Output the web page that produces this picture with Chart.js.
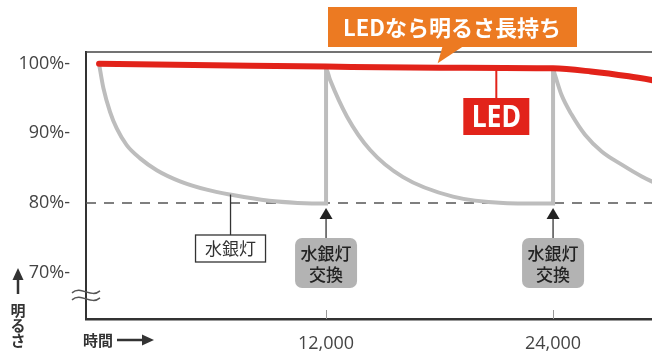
<!DOCTYPE html>
<html>
<head>
<meta charset="utf-8">
<script src="https://cdn.jsdelivr.net/npm/chart.js@4/dist/chart.umd.min.js"></script>
<style>
  body { margin: 0; background: #fff; }
  canvas { display: block; }
</style>
</head>
<body>
<canvas id="myChart" width="652" height="356"></canvas>
<script>
// tick labels
const xTicks = [12000, 24000];
const yTicks = [70, 80, 90, 100];

// LED brightness (%) over hours
const ledHours = [0, 6000, 12000, 18000, 24000, 26000, 28000, 30000];
const ledLight = [100, 99.8, 99.6, 99.45, 99.35, 98.9, 98.2, 97.3];

// mercury lamp, replaced at 12,000 and 24,000 hours
const hgHours = [0, 230, 580, 935, 1460, 2170, 3050, 4280, 5690, 6920, 9000, 10500, 12000,
                 12000, 12210, 13110, 14330, 16070, 18710, 21360, 24000,
                 24000, 24100, 24450, 24980, 25690, 26570, 27630, 28690, 29210, 30000];
const hgLight = [100, 96.5, 93.1, 90.7, 88.3, 86.4, 84.7, 83.1, 81.9, 81.2, 80.3, 80.0, 79.9,
                 99.3, 97.7, 92.4, 87.6, 83.7, 80.9, 80.0, 79.9,
                 99.2, 98.4, 95.5, 92.7, 89.8, 87.4, 85.5, 83.8, 83.1, 82.2];

// annotation anchors (data units)
const replaceAt = [12000, 24000];
const ledLabelAt = 21000;
const hgLabelAt = 6950;
const bannerTipAt = 17900;

const RED = '#e2231a';
const GRAY = '#bdbdbd';
const ORANGE = '#ec7a22';
const JP = '"Noto Sans CJK JP", "Noto Sans", sans-serif';

function roundRect(ctx, x, y, w, h, r) {
  ctx.beginPath();
  ctx.moveTo(x + r, y);
  ctx.arcTo(x + w, y, x + w, y + h, r);
  ctx.arcTo(x + w, y + h, x, y + h, r);
  ctx.arcTo(x, y + h, x, y, r);
  ctx.arcTo(x, y, x + w, y, r);
  ctx.closePath();
}

const decorations = {
  id: 'decorations',
  beforeDatasetsDraw(chart) {
    const ctx = chart.ctx, a = chart.chartArea;
    const y80 = chart.scales.y.getPixelForValue(80);
    ctx.save();
    ctx.strokeStyle = '#555';
    ctx.lineWidth = 1.5;
    ctx.setLineDash([10, 8]);
    ctx.beginPath();
    ctx.moveTo(a.left, y80);
    ctx.lineTo(a.right, y80);
    ctx.stroke();
    ctx.restore();
  },
  afterDraw(chart) {
    const ctx = chart.ctx, a = chart.chartArea;
    const xs = chart.scales.x, ys = chart.scales.y;
    ctx.save();

    // top frame line
    ctx.strokeStyle = '#444';
    ctx.lineWidth = 1.5;
    ctx.beginPath();
    ctx.moveTo(a.left, a.top);
    ctx.lineTo(a.right, a.top);
    ctx.stroke();

    // inner x ticks
    ctx.strokeStyle = '#999';
    ctx.lineWidth = 1;
    xTicks.forEach(v => {
      const px = Math.round(xs.getPixelForValue(v)) + 0.5;
      ctx.beginPath();
      ctx.moveTo(px, a.bottom - 9);
      ctx.lineTo(px, a.bottom);
      ctx.stroke();
    });

    // axis break mark
    const yb = ys.getPixelForValue(66.7);
    ctx.strokeStyle = '#555';
    ctx.lineWidth = 1.4;
    [-3.5, 3.5].forEach(d => {
      const x0 = a.left - 14, x1 = a.left + 14, y = yb + d;
      ctx.beginPath();
      ctx.moveTo(x0, y + 1);
      ctx.bezierCurveTo(x0 + 9, y - 7, x1 - 9, y + 7, x1, y - 1);
      ctx.stroke();
    });

    // y axis title: arrow + vertical text
    ctx.fillStyle = '#333';
    ctx.strokeStyle = '#333';
    ctx.lineWidth = 2.5;
    ctx.beginPath();
    ctx.moveTo(18, 294);
    ctx.lineTo(18, 278);
    ctx.stroke();
    ctx.beginPath();
    ctx.moveTo(18, 268);
    ctx.lineTo(12.5, 280);
    ctx.lineTo(23.5, 280);
    ctx.closePath();
    ctx.fill();
    ctx.font = 'bold 15px ' + JP;
    ctx.textAlign = 'center';
    ctx.textBaseline = 'middle';
    ['明', 'る', 'さ'].forEach((c, i) => ctx.fillText(c, 18, 310 + i * 15));

    // x axis title
    ctx.textAlign = 'left';
    ctx.fillText('時間', 83, 340);
    ctx.beginPath();
    ctx.moveTo(117, 340);
    ctx.lineTo(144, 340);
    ctx.stroke();
    ctx.beginPath();
    ctx.moveTo(154, 340);
    ctx.lineTo(142, 334.5);
    ctx.lineTo(142, 345.5);
    ctx.closePath();
    ctx.fill();

    // orange banner
    const tipX = xs.getPixelForValue(bannerTipAt), tipY = ys.getPixelForValue(100.1);
    ctx.fillStyle = ORANGE;
    ctx.fillRect(328, 7, 249, 40);
    ctx.beginPath();
    ctx.moveTo(tipX + 5, 46);
    ctx.lineTo(tipX + 26, 46);
    ctx.lineTo(tipX, tipY);
    ctx.closePath();
    ctx.fill();
    ctx.fillStyle = '#fff';
    ctx.font = 'bold 22px ' + JP;
    ctx.textAlign = 'center';
    ctx.fillText('LEDなら明るさ長持ち', 452, 28);

    // LED label
    const lx = xs.getPixelForValue(ledLabelAt);
    const ly = ys.getPixelForValue(99.4);
    ctx.strokeStyle = RED;
    ctx.lineWidth = 2;
    ctx.beginPath();
    ctx.moveTo(lx, ly);
    ctx.lineTo(lx, 98);
    ctx.stroke();
    ctx.fillStyle = RED;
    ctx.fillRect(lx - 33, 98, 66, 37);
    ctx.fillStyle = '#fff';
    ctx.save();
    ctx.translate(lx, 118);
    ctx.scale(0.86, 1);
    ctx.font = 'bold 31px "Noto Sans", sans-serif';
    ctx.fillText('LED', 0, 0);
    ctx.restore();

    // mercury lamp label
    const hx = xs.getPixelForValue(hgLabelAt);
    const hy = ys.getPixelForValue(81.2);
    ctx.strokeStyle = '#333';
    ctx.lineWidth = 1.3;
    ctx.beginPath();
    ctx.moveTo(hx, hy);
    ctx.lineTo(hx, 235);
    ctx.stroke();
    ctx.fillStyle = '#fff';
    ctx.fillRect(hx - 35, 235, 70, 27);
    ctx.strokeRect(hx - 35, 235, 70, 27);
    ctx.fillStyle = '#333';
    ctx.font = '17px ' + JP;
    ctx.fillText('水銀灯', hx, 249);

    // replacement markers
    const y80 = ys.getPixelForValue(80);
    replaceAt.forEach(v => {
      const px = xs.getPixelForValue(v);
      ctx.strokeStyle = '#333';
      ctx.lineWidth = 1.3;
      ctx.beginPath();
      ctx.moveTo(px, 238);
      ctx.lineTo(px, y80 + 14);
      ctx.stroke();
      ctx.fillStyle = '#222';
      ctx.beginPath();
      ctx.moveTo(px, y80 + 5);
      ctx.lineTo(px - 6.5, y80 + 16);
      ctx.lineTo(px + 6.5, y80 + 16);
      ctx.closePath();
      ctx.fill();
      ctx.fillStyle = '#b3b3b3';
      roundRect(ctx, px - 31, 238, 62, 50, 7);
      ctx.fill();
      ctx.fillStyle = '#222';
      ctx.font = '500 17px ' + JP;
      ctx.fillText('水銀灯', px, 254);
      ctx.fillText('交換', px, 275);
    });

    ctx.restore();
  }
};

const CHART = document.getElementById('myChart');
let myChart = new Chart(CHART, {
  type: 'line',
  data: {
    datasets: [{
      label: 'LED',
      data: ledHours.map((h, i) => ({ x: h, y: ledLight[i] })),
      borderColor: RED,
      borderWidth: 6,
      pointRadius: 0,
      cubicInterpolationMode: 'monotone',
      borderCapStyle: 'round'
    }, {
      label: '水銀灯',
      data: hgHours.map((h, i) => ({ x: h, y: hgLight[i] })),
      borderColor: GRAY,
      borderWidth: 4,
      pointRadius: 0,
      cubicInterpolationMode: 'monotone',
      borderJoinStyle: 'miter'
    }]
  },
  options: {
    responsive: false,
    animation: false,
    layout: { padding: { top: 52, right: 0, bottom: 0, left: 0 } },
    plugins: { legend: { display: false }, tooltip: { enabled: false } },
    scales: {
      x: {
        type: 'linear',
        min: -690,
        max: 29230,
        afterBuildTicks: s => { s.ticks = xTicks.map(v => ({ value: v })); },
        afterFit: s => { s.height = 37; s.paddingLeft = 0; s.paddingRight = 0; },
        grid: { display: false },
        border: { color: '#333', width: 2.5 },
        ticks: {
          callback: v => v.toLocaleString('en-US'),
          color: '#444',
          font: { family: '"Open Sans", "Noto Sans", sans-serif', size: 18 },
          padding: 6,
          maxRotation: 0,
          autoSkip: false
        }
      },
      y: {
        min: 63.3,
        max: 101.7,
        afterBuildTicks: s => { s.ticks = yTicks.map(v => ({ value: v })); },
        afterFit: s => { s.width = 86; s.paddingTop = 0; s.paddingBottom = 0; },
        grid: { display: false },
        border: { color: '#333', width: 2 },
        ticks: {
          callback: v => v + '%-',
          color: '#444',
          font: { family: '"Open Sans", "Noto Sans", sans-serif', size: 18 },
          padding: 8
        }
      }
    }
  },
  plugins: [decorations]
});
</script>
</body>
</html>
